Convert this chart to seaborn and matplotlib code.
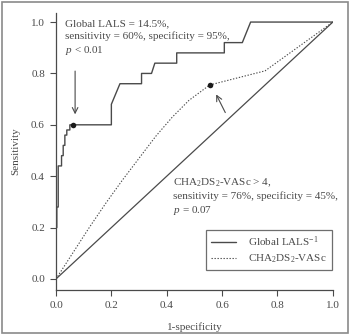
import matplotlib
matplotlib.use("Agg")
import matplotlib.pyplot as plt
import seaborn as sns
from matplotlib.patches import Rectangle
from matplotlib.lines import Line2D

# ROC data
lals_fpr = [0.0, 0.0, 0.003, 0.003, 0.008, 0.008, 0.02, 0.02, 0.026, 0.026, 0.032, 0.032,
            0.039, 0.039, 0.05, 0.05, 0.2, 0.2, 0.231, 0.309, 0.309, 0.345, 0.357, 0.436,
            0.436, 0.608, 0.608, 0.673, 0.703, 1.0]
lals_tpr = [0.0, 0.2, 0.2, 0.28, 0.28, 0.44, 0.44, 0.48, 0.48, 0.52, 0.52, 0.56,
            0.56, 0.58, 0.58, 0.6, 0.6, 0.68, 0.76, 0.76, 0.8, 0.8, 0.84, 0.84,
            0.88, 0.88, 0.92, 0.92, 1.0, 1.0]
cha_fpr = [0.0, 0.06, 0.12, 0.18, 0.24, 0.30, 0.36, 0.42, 0.48, 0.555, 0.755, 1.0]
cha_tpr = [0.0, 0.10, 0.20, 0.295, 0.385, 0.47, 0.555, 0.63, 0.695, 0.755, 0.81, 1.0]
ref_x = [0.0, 1.0]
ref_y = [0.0, 1.0]
lals_cut = (0.06, 0.6)
cha_cut = (0.555, 0.755)
xticks = [0.0, 0.2, 0.4, 0.6, 0.8, 1.0]
yticks = [0.0, 0.2, 0.4, 0.6, 0.8, 1.0]
tick_labels = ["0.0", "0.2", "0.4", "0.6", "0.8", "1.0"]

sns.set_style("ticks")
plt.rcParams["font.family"] = ["Liberation Serif", "DejaVu Serif"]
plt.rcParams["mathtext.fontset"] = "custom"
plt.rcParams["mathtext.rm"] = "Liberation Serif"
plt.rcParams["mathtext.it"] = "Liberation Serif:italic"

ink = "#4a4a4a"
fig = plt.figure(figsize=(3.5, 3.35), dpi=100)
ax = fig.add_axes([0.16, 0.1343, 0.791, 0.8267])

sns.lineplot(x=lals_fpr, y=lals_tpr, sort=False, estimator=None, color=ink, lw=1.0, ax=ax)
sns.lineplot(x=cha_fpr, y=cha_tpr, sort=False, estimator=None, color=ink, lw=0.8,
             linestyle=(0, (1.2, 1.5)), ax=ax)
sns.lineplot(x=ref_x, y=ref_y, sort=False, estimator=None, color=ink, lw=0.9, ax=ax)
ax.scatter([lals_cut[0], cha_cut[0]], [lals_cut[1], cha_cut[1]], s=16, color="#1a1a1a",
           zorder=5, linewidths=0)

ax.set_xlim(0, 1.0)
ax.set_ylim(-0.043, 1.035)
ax.set_xticks(xticks)
ax.set_xticklabels(tick_labels)
ax.set_yticks(yticks)
ax.set_yticklabels(tick_labels)
for s in ["top", "right"]:
    ax.spines[s].set_visible(False)
for s in ["left", "bottom"]:
    ax.spines[s].set_color(ink)
    ax.spines[s].set_linewidth(0.9)
ax.tick_params(colors=ink, labelsize=8, length=4, width=0.8, pad=4)
ax.set_xlabel("1-specificity", fontsize=8, color=ink, labelpad=9)
ax.set_ylabel("Sensitivity", fontsize=8, color=ink, labelpad=8)

ax.text(0.032, 0.938, "Global LALS = 14.5%,\nsensitivity = 60%, specificity = 95%,\n$p$ < 0.01",
        fontsize=8, color=ink, va="center", ha="left", linespacing=1.4)
ax.annotate("", xy=(0.069, 0.63), xytext=(0.069, 0.82),
            arrowprops=dict(arrowstyle="->", color=ink, lw=0.8))
ax.annotate("", xy=(0.574, 0.728), xytext=(0.616, 0.638),
            arrowprops=dict(arrowstyle="->", color=ink, lw=0.8))
ax.text(0.421, 0.32,
        "CHA$_\\mathregular{2}$DS$_\\mathregular{2}$-VASc > 4,\nsensitivity = 76%, specificity = 45%,\n$p$ = 0.07",
        fontsize=8, color=ink, va="center", ha="left", linespacing=1.35)

handles = [Line2D([], [], color=ink, lw=1.0),
           Line2D([], [], color=ink, lw=0.8, linestyle=(0, (1.2, 1.5)))]
leg = ax.legend(handles, ["Global LALS$^{\\mathregular{-1}}$",
                          "CHA$_\\mathregular{2}$DS$_\\mathregular{2}$-VASc"],
                loc="lower right", bbox_to_anchor=(0.996, 0.072), borderaxespad=0,
                fontsize=8, frameon=True, fancybox=False, handlelength=2.2,
                borderpad=0.45, labelspacing=0.3, handletextpad=1.1)
leg.get_frame().set_edgecolor(ink)
leg.get_frame().set_linewidth(0.9)
for t in leg.get_texts():
    t.set_color(ink)

fig.patches.append(Rectangle((0.006, 0.006), 0.988, 0.988, transform=fig.transFigure,
                             fill=False, edgecolor="#8a8a8a", lw=1.2))
fig.savefig("out.png", dpi=100)
